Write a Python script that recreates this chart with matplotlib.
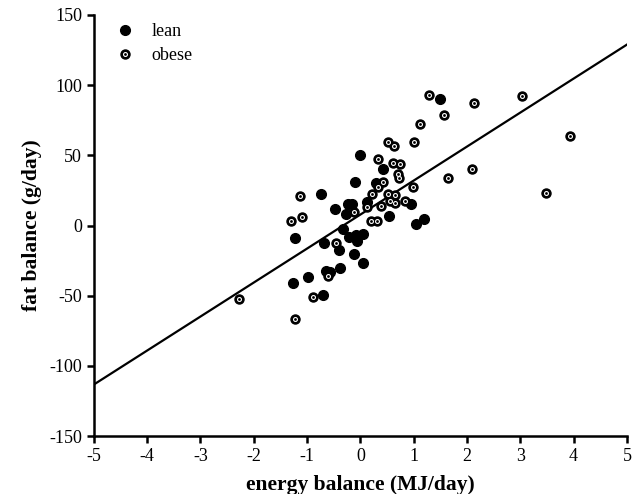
import numpy as np
import matplotlib
matplotlib.use("Agg")
import matplotlib.pyplot as plt
from matplotlib.legend_handler import HandlerTuple

plt.rcParams['font.family'] = ['Liberation Serif', 'DejaVu Serif']
plt.rcParams['axes.unicode_minus'] = False

# lean subjects (energy balance MJ/day, fat balance g/day)
lean_x = [-0.01, 0.42, -0.10, 0.29, -0.74, -0.23, -0.16, 0.12, -0.48, -0.27,
          0.95, 0.53, 1.04, 1.19, -1.23, -0.33, -0.22, -0.08, 0.05, -0.07,
          -0.68, -0.40, -0.12, 0.05, -0.38, -0.65, -0.57, -0.98, -1.27, -0.70,
          1.49]
lean_y = [50.2, 40.3, 31.0, 30.3, 22.5, 15.3, 15.3, 16.7, 11.8, 8.2,
          15.3, 6.8, 1.1, 4.6, -8.9, -2.5, -8.2, -6.8, -6.1, -11.0,
          -12.5, -17.5, -20.3, -26.7, -30.3, -32.4, -33.1, -36.7, -41.0, -49.5,
          90.2]

# obese subjects
obese_x = [0.52, 0.63, 1.00, 0.33, 0.61, 0.74, 0.70, 0.72, 0.42, 0.33,
           0.22, 0.52, 0.65, 0.98, 0.55, 0.65, 0.83, 0.38, 0.12, -0.12,
           0.20, 0.31, -1.14, -1.10, -1.30, -0.46, -0.61, -0.89, -2.28, -1.23,
           1.29, 2.13, 3.03, 1.57, 1.12, 3.93, 2.09, 1.64, 3.48]
obese_y = [59.5, 56.7, 59.5, 47.4, 44.5, 43.8, 36.7, 33.8, 31.0, 27.4,
           22.5, 22.5, 21.7, 27.4, 17.5, 16.0, 17.5, 13.9, 13.2, 9.6,
           3.2, 3.2, 21.0, 6.1, 3.2, -12.5, -36.0, -51.0, -52.4, -66.6,
           93.0, 87.3, 92.3, 78.8, 72.3, 63.8, 40.3, 33.9, 23.2]

# regression line fat = slope * energy + intercept
slope = 24.2
intercept = 7.8

fig = plt.figure(figsize=(6.43, 4.94), dpi=100)
ax = fig.add_axes([0.146, 0.117, 0.829, 0.853])

xl = np.array([-5, 5])
ax.plot(xl, slope * xl + intercept, color='black', lw=1.6, zorder=1)

h_lean, = ax.plot(lean_x, lean_y, 'o', color='black', markersize=7.0, ls='none',
                  zorder=3)
# obese marker: black disc with a thin white ring inside
h_ob1, = ax.plot(obese_x, obese_y, 'o', color='black', markersize=6.5, ls='none',
                 zorder=3)
h_ob2, = ax.plot(obese_x, obese_y, 'o', markerfacecolor='black',
                 markeredgecolor='white', markeredgewidth=0.8, markersize=2.8,
                 ls='none', zorder=4)

ax.set_xlim(-5, 5)
ax.set_ylim(-150, 150)
ax.set_xticks(range(-5, 6))
ax.set_yticks(range(-150, 151, 50))

for s in ['top', 'right']:
    ax.spines[s].set_visible(False)
for s in ['left', 'bottom']:
    ax.spines[s].set_linewidth(1.8)
ax.tick_params(direction='out', length=5, width=1.8, labelsize=13)

ax.set_xlabel('energy balance (MJ/day)', fontsize=15.5, fontweight='bold', labelpad=7)
ax.set_ylabel('fat balance (g/day)', fontsize=15.5, fontweight='bold', labelpad=5)

ax.legend([h_lean, (h_ob1, h_ob2)], ['lean', 'obese'],
          handler_map={tuple: HandlerTuple(ndivide=1, pad=0)},
          loc='upper left', frameon=False, fontsize=13, handletextpad=0.5,
          borderaxespad=0.3, bbox_to_anchor=(0.0, 1.01), labelspacing=0.4)

fig.savefig('out.png', dpi=100)
